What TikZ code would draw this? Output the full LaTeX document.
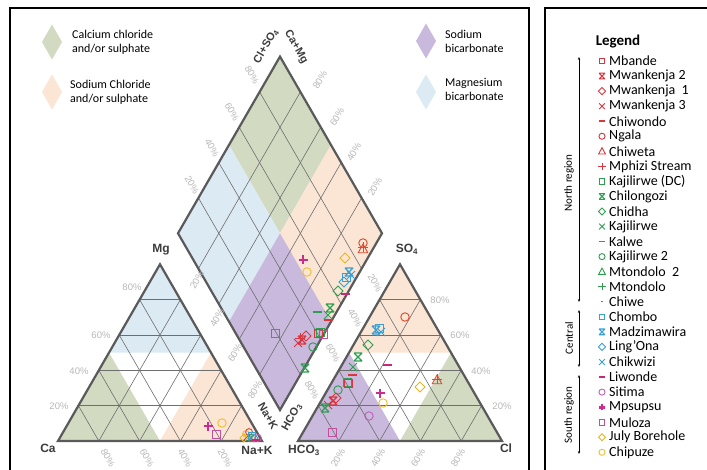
\documentclass[tikz,border=0pt]{standalone}
\usepackage{fontspec}
\setmainfont{Carlito}
\newfontfamily\arial{Liberation Sans}
\usetikzlibrary{calc,arrows.meta}
\definecolor{cgreen}{HTML}{D2DAC2}
\definecolor{corange}{HTML}{FBE5D5}
\definecolor{cblue}{HTML}{DCEAF3}
\definecolor{cpurple}{HTML}{C8B9DD}
\definecolor{gridc}{HTML}{6E6E6E}
\definecolor{borderc}{HTML}{5A5A5A}
\definecolor{pctc}{HTML}{B8B8B8}
\definecolor{labc}{HTML}{3C3C3C}
\definecolor{mred}{HTML}{D9363E}
\definecolor{morange}{HTML}{DE4A2C}
\definecolor{mgreen}{HTML}{2E9E50}
\definecolor{mcyan}{HTML}{3A9FD2}
\definecolor{mmag}{HTML}{C8287A}
\definecolor{msit}{HTML}{C060B4}
\definecolor{mpsu}{HTML}{CC2C8E}
\definecolor{mmul}{HTML}{C2509E}
\definecolor{mjul}{HTML}{E6B622}
\definecolor{mchi}{HTML}{F0C030}
\tikzset{
  gridline/.style={draw=gridc,line width=0.6pt},
  border/.style={draw=borderc,line width=2.2pt,line join=miter},
  pct/.style={text=pctc,font=\arial\fontsize{9.5}{10}\selectfont,inner sep=0pt},
  corner/.style={text=labc,font=\arial\bfseries\fontsize{12}{13}\selectfont,inner sep=0pt},
  dlab/.style={text=labc,font=\arial\bfseries\fontsize{11}{12}\selectfont,inner sep=0pt},
  swtext/.style={font=\fontsize{12}{14}\selectfont,align=left,anchor=west,inner sep=0pt},
  legtext/.style={font=\fontsize{14}{15}\selectfont,anchor=west,inner sep=0pt},
  reglab/.style={font=\fontsize{11}{12}\selectfont,rotate=90,inner sep=0pt},
  regarrow/.style={draw=black,line width=0.6pt,{Stealth[length=3pt,width=2.4pt]}-{Stealth[length=3pt,width=2.4pt]}},
  dat/.style={scale=1.25},
  mksq/.pic={\draw[line width=0.9pt] (-3.2,-3.2) rectangle (3.2,3.2);},
  mkci/.pic={\draw[line width=0.9pt] (0,0) circle (3.4);},
  mkdi/.pic={\draw[line width=0.9pt] (0,-4) -- (4,0) -- (0,4) -- (-4,0) -- cycle;},
  mkx/.pic={\draw[line width=0.9pt] (-3.2,-3.2) -- (3.2,3.2) (-3.2,3.2) -- (3.2,-3.2);},
  mkxs/.pic={\draw[line width=1.1pt] (-3.2,-3.2) -- (3.2,3.2) (-3.2,3.2) -- (3.2,-3.2) (-3.2,-3.2) -- (3.2,-3.2) (-3.2,3.2) -- (3.2,3.2);},
  mkdash/.pic={\draw[line width=1.6pt] (-3.6,0) -- (3.6,0);},
  mktri/.pic={\draw[line width=0.9pt] (0,-4) -- (3.8,3) -- (-3.8,3) -- cycle;},
  mkplus/.pic={\draw[line width=0.9pt] (-4,0) -- (4,0) (0,-4) -- (0,4);},
  mkfplus/.pic={\draw[line width=2.8pt] (-3.6,0) -- (3.6,0) (0,-3.6) -- (0,3.6);},
  mkdot/.pic={\draw[line width=1.3pt] (-1.6,0) -- (1.6,0);},
}
\begin{document}
\begin{tikzpicture}[x=1pt,y=-1pt]
\useasboundingbox (0,0) rectangle (707,470);
\fill[white] (0,0) rectangle (707,470);
% frames
\draw[line width=1.6pt] (10,8) rectangle (529,480);
\draw[line width=1.6pt] (545,8) rectangle (720,480);
% key coordinates
\coordinate (Ca) at (58,441); \coordinate (NaK) at (262,441); \coordinate (Mg) at (160,264.3);
\coordinate (HC) at (298,441); \coordinate (Cl) at (502,441); \coordinate (SO) at (400,264.3);
\coordinate (DT) at (280,56.6); \coordinate (DL) at (178,233.3); \coordinate (DR) at (382,233.3);
\coordinate (DB) at (280,410); \coordinate (DM) at (280,233.3);
% cation triangle fills
\fill[cblue] (Mg) -- ($(Ca)!.5!(Mg)$) -- ($(NaK)!.5!(Mg)$) -- cycle;
\fill[cgreen] (Ca) -- ($(Ca)!.5!(NaK)$) -- ($(Ca)!.5!(Mg)$) -- cycle;
\fill[corange] (NaK) -- ($(Ca)!.5!(NaK)$) -- ($(NaK)!.5!(Mg)$) -- cycle;
% anion triangle fills
\fill[corange] (SO) -- ($(HC)!.5!(SO)$) -- ($(Cl)!.5!(SO)$) -- cycle;
\fill[cpurple] (HC) -- ($(HC)!.5!(Cl)$) -- ($(HC)!.5!(SO)$) -- cycle;
\fill[cgreen] (Cl) -- ($(HC)!.5!(Cl)$) -- ($(Cl)!.5!(SO)$) -- cycle;
% diamond fills
\fill[cgreen] (DT) -- ($(DT)!.5!(DL)$) -- (DM) -- ($(DT)!.5!(DR)$) -- cycle;
\fill[cblue] (DL) -- ($(DT)!.5!(DL)$) -- (DM) -- ($(DL)!.5!(DB)$) -- cycle;
\fill[corange] (DR) -- ($(DT)!.5!(DR)$) -- (DM) -- ($(DR)!.5!(DB)$) -- cycle;
\fill[cpurple] (DB) -- ($(DL)!.5!(DB)$) -- (DM) -- ($(DR)!.5!(DB)$) -- cycle;
% grids
\foreach \t in {0.2,0.4,0.6,0.8}{
  \draw[gridline] ($(Ca)!\t!(Mg)$) -- ($(NaK)!\t!(Mg)$);
  \draw[gridline] ($(Ca)!\t!(NaK)$) -- ($(Mg)!\t!(NaK)$);
  \draw[gridline] ($(NaK)!\t!(Ca)$) -- ($(Mg)!\t!(Ca)$);
  \draw[gridline] ($(HC)!\t!(SO)$) -- ($(Cl)!\t!(SO)$);
  \draw[gridline] ($(HC)!\t!(Cl)$) -- ($(SO)!\t!(Cl)$);
  \draw[gridline] ($(Cl)!\t!(HC)$) -- ($(SO)!\t!(HC)$);
  \draw[gridline] ($(DL)!\t!(DB)$) -- ($(DT)!\t!(DR)$);
  \draw[gridline] ($(DR)!\t!(DB)$) -- ($(DT)!\t!(DL)$);
}
\draw[border] (Ca) -- (NaK) -- (Mg) -- cycle;
\draw[border] (HC) -- (Cl) -- (SO) -- cycle;
\draw[border] (DT) -- (DR) -- (DB) -- (DL) -- cycle;
% corner labels
\node[corner] (lMg) at (161,250) {Mg};
\node[corner] (lCa) at (48,448) {Ca};
\node[corner] (lNa) at (257,450) {Na+K};
\node[corner] (lHC) at (304,450) {HCO\textsubscript{3}};
\node[corner] (lSO) at (407,249) {SO\textsubscript{4}};
\node[corner] (lCl) at (506,448) {Cl};
\node[dlab,rotate=60] (lClSO) at (266,46) {Cl+SO\textsubscript{4}};
\node[dlab,rotate=-60] (lCaMg) at (296,47) {Ca+Mg};
\node[dlab,rotate=-60] (lNaK2) at (268,416) {Na+K};
\node[dlab,rotate=60] (lHC2) at (292,417) {HCO\textsubscript{3}};
% percent labels: cation triangle
\node[pct] at (132,287) {80\%};
\node[pct] at (101,335) {60\%};
\node[pct] at (79,371) {40\%};
\node[pct] at (59,406) {20\%};
\node[pct,rotate=-60] at (108,458) {80\%};
\node[pct,rotate=-60] at (147,458) {60\%};
\node[pct,rotate=-60] at (185,458) {40\%};
\node[pct,rotate=-60] at (225,458) {20\%};
% anion triangle
\node[pct] at (440,300) {80\%};
\node[pct] at (460,335) {60\%};
\node[pct] at (481,371) {40\%};
\node[pct] at (502,406) {20\%};
\node[pct,rotate=60] at (338,458) {20\%};
\node[pct,rotate=60] at (378,458) {40\%};
\node[pct,rotate=60] at (418,458) {60\%};
\node[pct,rotate=60] at (458,458) {80\%};
% diamond
\node[pct,rotate=-60] at (252,75) {80\%};
\node[pct,rotate=-60] at (232,112) {60\%};
\node[pct,rotate=-60] at (212,148) {40\%};
\node[pct,rotate=-60] at (192,185) {20\%};
\node[pct,rotate=60] at (320,80) {80\%};
\node[pct,rotate=60] at (337,117) {60\%};
\node[pct,rotate=60] at (354,152) {40\%};
\node[pct,rotate=60] at (375,187) {20\%};
\node[pct,rotate=60] at (197,280) {20\%};
\node[pct,rotate=60] at (217,318) {40\%};
\node[pct,rotate=60] at (235,353) {60\%};
\node[pct,rotate=60] at (255,390) {80\%};
\node[pct,rotate=-60] at (375,283) {20\%};
\node[pct,rotate=-60] at (355,318) {40\%};
\node[pct,rotate=-60] at (333,353) {60\%};
\node[pct,rotate=-60] at (312,390) {80\%};
% type swatches
\fill[cgreen] (52,24.5) -- (62,42) -- (52,59.5) -- (42,42) -- cycle;
\fill[corange] (52,74.5) -- (62,92) -- (52,109.5) -- (42,92) -- cycle;
\fill[cpurple] (426,23.5) -- (436,41) -- (426,58.5) -- (416,41) -- cycle;
\fill[cblue] (426,74.5) -- (436,92) -- (426,109.5) -- (416,92) -- cycle;
\node[swtext] (t1) at (72,42) {Calcium chloride\\and/or sulphate};
\node[swtext] (t2) at (70,92) {Sodium Chloride\\and/or sulphate};
\node[swtext] (t3) at (445,41) {Sodium\\bicarbonate};
\node[swtext] (t4) at (445,89) {Magnesium\\bicarbonate};
% ---- data: diamond
\pic[morange,dat] at (363,243) {mkci};
\pic[morange,dat] at (363,249) {mktri};
\pic[morange,dat] at (363,247) {mkplus};
\pic[mjul,dat] at (345,258) {mkdi};
\pic[mpsu,dat] at (303,260) {mkfplus};
\pic[mchi,dat] at (307,272) {mkci};
\pic[mcyan,dat] at (349,272) {mkxs};
\pic[mcyan,dat] at (346,277) {mksq};
\pic[mcyan,dat] at (351,275) {mkx};
\pic[mcyan,dat] at (344,282) {mkdi};
\pic[mgreen,dat] at (338,291) {mkdi};
\pic[mmag,dat] at (345,294) {mkdash};
\pic[mgreen,dat] at (330,308) {mkxs};
\pic[mgreen,dat] at (317,312) {mkdash};
\pic[mgreen,dat] at (328,315) {mkx};
\pic[mred,dat] at (328,320) {mkdash};
\pic[mmul,dat] at (323,334) {mksq};
\pic[mgreen,dat] at (320,332) {mksq};
\pic[mred,dat] at (318,333) {mksq};
\pic[mmul,dat] at (275,333) {mksq};
\pic[mred,dat] at (302,340) {mkxs};
\pic[mred,dat] at (306,336) {mkdi};
\pic[mred,dat] at (298,343) {mkx};
\pic[mred,dat] at (300,338) {mkplus};
\pic[mgreen,dat] at (313,347) {mkci};
\pic[mgreen,dat] at (305,368) {mkxs};
% ---- data: cation triangle
\pic[mpsu,dat] at (208,426) {mkfplus};
\pic[mmul,dat] at (216,434) {mksq};
\pic[mchi,dat] at (222,423) {mkci};
\pic[mchi] at (246,434) {mkci};
\pic[morange] at (249,432) {mkci};
\pic[mred] at (247,437) {mkx};
\pic[mgreen] at (251,438) {mkxs};
\pic[mjul] at (244,438) {mkdi};
\pic[mcyan] at (254,438) {mkdi};
\pic[mcyan] at (252,436) {mksq};
\pic[msit] at (258,438) {mkci};
\pic[mmag] at (256,440) {mkdash};
% ---- data: anion triangle
\pic[morange,dat] at (405,317) {mkci};
\pic[mcyan,dat] at (376,330) {mkxs};
\pic[mcyan,dat] at (379,328) {mksq};
\pic[mcyan,dat] at (381,332) {mkx};
\pic[mgreen,dat] at (368,345) {mkdi};
\pic[mgreen,dat] at (358,357) {mkxs};
\pic[mmag,dat] at (387,365) {mkdash};
\pic[mgreen,dat] at (353,367) {mkx};
\pic[mred,dat] at (352,375) {mkdash};
\pic[mgreen,dat] at (347,382) {mksq};
\pic[mred,dat] at (348,383) {mksq};
\pic[mgreen,dat] at (338,390) {mkci};
\pic[mred,dat] at (333,401) {mkxs};
\pic[mred,dat] at (336,398) {mkdi};
\pic[mred,dat] at (328,405) {mkx};
\pic[mgreen,dat] at (325,408) {mkxs};
\pic[mpsu,dat] at (380,393) {mkfplus};
\pic[mchi,dat] at (383,403) {mkci};
\pic[mjul,dat] at (420,387) {mkdi};
\pic[morange,dat] at (437,380) {mktri};
\pic[morange,dat] at (437,379) {mkplus};
\pic[msit,dat] at (369,416) {mkci};
\pic[mmul,dat] at (332,432) {mksq};
% ---- legend
\node[font=\bfseries\fontsize{15}{16}\selectfont,inner sep=0pt] (leg) at (618,42) {Legend};
\foreach \n/\p/\c [count=\i from 0] in {
  Mbande/mksq/mred, Mwankenja 2/mkxs/mred, Mwankenja\ \ 1/mkdi/mred, Mwankenja 3/mkx/mred,
  Chiwondo/mkdash/mred, Ngala/mkci/mred, Chiweta/mktri/mred, Mphizi Stream/mkplus/mred,
  Kajilirwe (DC)/mksq/mgreen, Chilongozi/mkxs/mgreen, Chidha/mkdi/mgreen, Kajilirwe/mkx/mgreen,
  Kalwe/mkdash/mgreen, Kajilirwe 2/mkci/mgreen, Mtondolo\ \ 2/mktri/mgreen, Mtondolo/mkplus/mgreen,
  Chiwe/mkdot/mgreen, Chombo/mksq/mcyan, Madzimawira/mkxs/mcyan, Ling'Ona/mkdi/mcyan,
  Chikwizi/mkx/mcyan, Liwonde/mkdash/mmag, Sitima/mkci/msit, Mpsupsu/mkfplus/mpsu,
  Muloza/mksq/mmul, July Borehole/mkdi/mjul, Chipuze/mkci/mchi}{
  \pic[\c,scale=0.9] at (602,{61+\i*15.05}) {\p};
  \node[legtext] (e\i) at (609,{61+\i*15.05}) {\n};
}
% region arrows
\draw[regarrow] (579,57) -- (579,302);
\draw[regarrow] (579,310) -- (579,367);
\draw[regarrow] (579,375) -- (579,454);
\node[reglab] (rN) at (569,183) {North region};
\node[reglab] (rC) at (569,338) {Central};
\node[reglab] (rS) at (569,415) {South region};
\end{tikzpicture}
\end{document}
